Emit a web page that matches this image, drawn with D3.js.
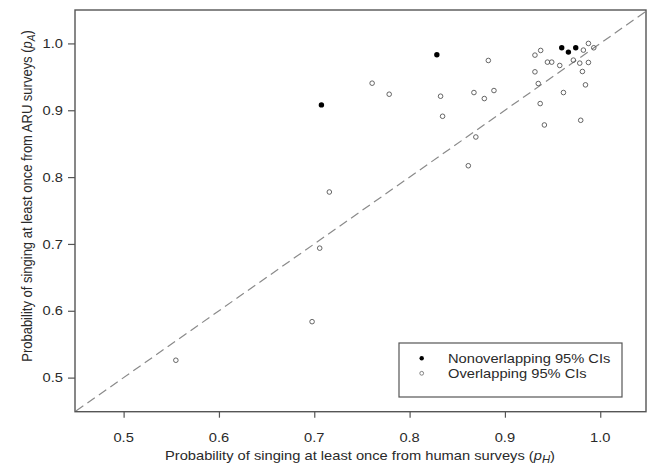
<!DOCTYPE html>
<html><head><meta charset="utf-8">
<script src="https://cdn.jsdelivr.net/npm/d3@7/dist/d3.min.js"></script>
<style>html,body{margin:0;padding:0;background:#fff;} svg{display:block;}</style>
</head><body>
<svg id="chart" width="647" height="467"></svg>
<script>
// ---- data ----
const openX = [0.5548,0.6977,0.7057,0.7158,0.7607,0.7786,0.8325,0.8346,0.8616,0.8675,0.8695,0.8784,0.8826,0.8885,0.9315,0.9375,0.9315,0.9350,0.9370,0.9414,0.9446,0.9491,0.9575,0.9614,0.9718,0.9785,0.9795,0.9813,0.9823,0.9845,0.9876,0.9876,0.9932];
const openY = [0.526,0.5837,0.6937,0.7777,0.9405,0.924,0.921,0.891,0.817,0.9265,0.860,0.9175,0.9745,0.9295,0.9825,0.9895,0.9575,0.940,0.910,0.878,0.972,0.972,0.967,0.9265,0.975,0.9705,0.885,0.958,0.990,0.938,1.000,0.9715,0.9935];
const filledX = [0.7075,0.8286,0.9596,0.9666,0.9743];
const filledY = [0.908,0.983,0.9935,0.987,0.9935];
const xTicks = [0.5,0.6,0.7,0.8,0.9,1.0];
const yTicks = [0.5,0.6,0.7,0.8,0.9,1.0];
const refLine = [0.45,1.05];
const legendLabels = ["Nonoverlapping 95% CIs","Overlapping 95% CIs"];

// ---- layout ----
const L=75, R=646, T=10, B=411.7, SX=1.13;
const font = "'Liberation Sans', Arial, Helvetica, sans-serif";
const txtCol = "#2a2a2a", frameCol="#555";
const svg = d3.select("#chart");
const x = d3.scaleLinear().domain([0.449,1.048]).range([L,R]);
const y = d3.scaleLinear().domain([0.449,1.05]).range([B,T]);

function stretched(g, px, py, extra){
  return g.append("text").attr("transform", `translate(${px},${py}) scale(${SX},1)` + (extra||""))
    .attr("font-family", font).attr("fill", txtCol);
}

// reference line
svg.append("line")
  .attr("x1", x(refLine[0])).attr("y1", y(refLine[0]))
  .attr("x2", x(refLine[1])).attr("y2", y(refLine[1]))
  .attr("stroke","#8a8a8a").attr("stroke-width",1.2).attr("stroke-dasharray","9,5");

// points
svg.append("g").selectAll("circle").data(openX.map((v,i)=>[v,openY[i]])).join("circle")
  .attr("cx",d=>x(d[0])).attr("cy",d=>y(d[1])).attr("r",2.3)
  .attr("fill","none").attr("stroke","#555").attr("stroke-width",0.9);
svg.append("g").selectAll("circle").data(filledX.map((v,i)=>[v,filledY[i]])).join("circle")
  .attr("cx",d=>x(d[0])).attr("cy",d=>y(d[1])).attr("r",2.7).attr("fill","#000");

// frame
svg.append("rect").attr("x",L).attr("y",T).attr("width",R-L).attr("height",B-T)
  .attr("fill","none").attr("stroke",frameCol).attr("stroke-width",1.4);

// x axis
const xa = svg.append("g").attr("transform",`translate(0,${B})`)
  .call(d3.axisBottom(x).tickValues(xTicks).tickSize(6).tickFormat(""));
xa.select(".domain").remove();
xa.selectAll("line").attr("stroke",frameCol).attr("stroke-width",1.2);
xTicks.forEach(t=>{
  stretched(svg, x(t), 442).attr("text-anchor","middle").attr("font-size",13).text(d3.format(".1f")(t));
});
// y axis
const ya = svg.append("g").attr("transform",`translate(${L},0)`)
  .call(d3.axisLeft(y).tickValues(yTicks).tickSize(7).tickFormat(""));
ya.select(".domain").remove();
ya.selectAll("line").attr("stroke",frameCol).attr("stroke-width",1.2);
yTicks.forEach(t=>{
  stretched(svg, 63, y(t)).attr("text-anchor","end").attr("dominant-baseline","central")
    .attr("font-size",13).text(d3.format(".1f")(t));
});

// axis titles
const xt = stretched(svg, 360, 460).attr("text-anchor","middle").attr("font-size",13);
xt.append("tspan").text("Probability of singing at least once from human surveys (");
xt.append("tspan").attr("font-style","italic").text("p");
xt.append("tspan").attr("font-style","italic").attr("font-size",10).attr("dy",3).text("H");
xt.append("tspan").attr("dy",-3).text(")");

const yt = stretched(svg, 32, 196, " rotate(-90)").attr("text-anchor","middle").attr("font-size",13);
yt.append("tspan").text("Probability of singing at least once from ARU surveys (");
yt.append("tspan").attr("font-style","italic").text("p");
yt.append("tspan").attr("font-style","italic").attr("font-size",10).attr("dy",3).text("A");
yt.append("tspan").attr("dy",-3).text(")");

// legend
svg.append("rect").attr("x",399).attr("y",343).attr("width",622-399).attr("height",54)
  .attr("fill","#fff").attr("stroke",frameCol).attr("stroke-width",1.2);
svg.append("circle").attr("cx",421.7).attr("cy",358.3).attr("r",2.2).attr("fill","#000");
svg.append("circle").attr("cx",421.7).attr("cy",373.3).attr("r",1.9).attr("fill","none").attr("stroke","#666").attr("stroke-width",0.8);
legendLabels.forEach((s,i)=>{
  stretched(svg, 448, 358.3+15*i).attr("dominant-baseline","central").attr("font-size",13).text(s);
});
</script>
</body></html>
